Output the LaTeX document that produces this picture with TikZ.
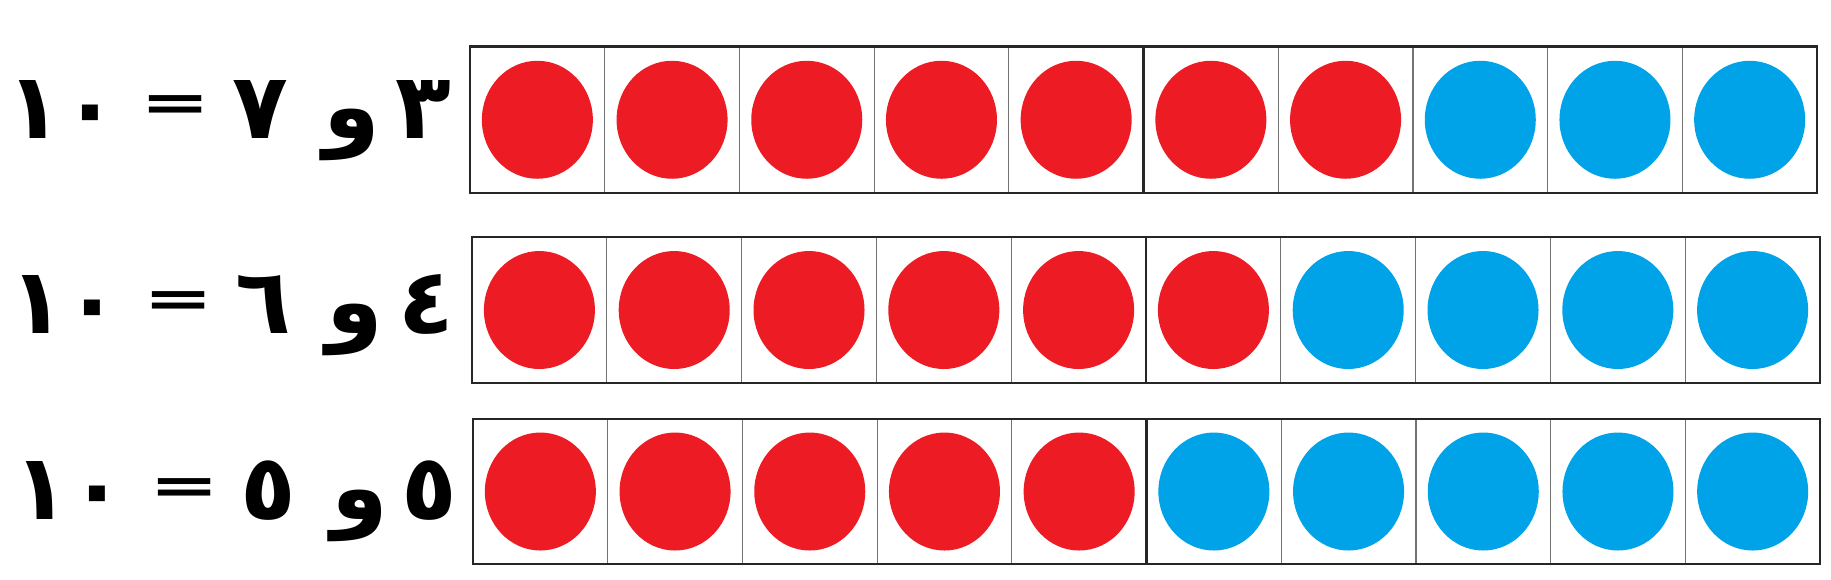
\documentclass[tikz,border=0pt]{standalone}
\usepackage{graphicx}
\usepackage{fontspec}
\newfontfamily\arabicfont[Script=Arabic]{DejaVu Sans}
\newfontfamily\eqfont{DejaVu Sans}
\TeXXeTstate=1

\definecolor{dotred}{HTML}{ED1C24}
\definecolor{dotblue}{HTML}{00A2E8}

\newcommand{\wideeq}{\scalebox{1.7}[1.05]{=}}

\tikzset{
  numtext/.style={font=\arabicfont\bfseries\fontsize{26}{31}\selectfont, inner sep=0pt, anchor=base},
  eqtext/.style={font=\eqfont\bfseries\fontsize{14}{17}\selectfont, inner sep=0pt},
  frameline/.style={line width=0.8pt, black!85},
  cellline/.style={line width=0.35pt, black!55}
}

\begin{document}
\begin{tikzpicture}
\useasboundingbox (0,0) rectangle (18.31,-5.79);

% ten frames, red dots first then blue
\foreach \row/\ty/\by/\lx/\rx/\nred in {1/-0.465/-1.93/4.70/18.17/7, 2/-2.37/-3.83/4.72/18.20/6, 3/-4.19/-5.64/4.73/18.20/5} {
  \pgfmathsetmacro\cw{(\rx-\lx)/10}
  \pgfmathsetmacro\cy{(\ty+\by)/2}
  \foreach \i in {1,...,10} {
    \pgfmathsetmacro\cx{\lx+(\i-0.5)*\cw}
    \ifnum\i>\nred \def\dotcol{dotblue}\else\def\dotcol{dotred}\fi
    \fill[fill=\dotcol] (\cx,\cy) ellipse [x radius=0.555, y radius=0.59];
  }
  \foreach \k in {1,2,3,4,6,7,8,9}
    \draw[cellline] ({\lx+\k*\cw},\ty) -- ({\lx+\k*\cw},\by);
  \draw[frameline] (\lx,\ty) rectangle (\rx,\by);
  \draw[frameline] ({\lx+5*\cw},\ty) -- ({\lx+5*\cw},\by);
}

% 3 and 7 = 10
\node(ten1)[numtext] at (0.625,-1.38) {١٠};
\node(eq1)[eqtext] at (1.76,-1.085) {\wideeq};
\node(seven)[numtext] at (2.605,-1.38) {٧};
\node(and1)[numtext] at (3.515,-1.38) {و};
\node(three)[numtext] at (4.23,-1.38) {٣};

% 4 and 6 = 10
\node(ten2)[numtext] at (0.65,-3.33) {١٠};
\node(eq2)[eqtext] at (1.79,-3.045) {\wideeq};
\node(six)[numtext] at (2.63,-3.33) {٦};
\node(and2)[numtext] at (3.545,-3.33) {و};
\node(four)[numtext] at (4.26,-3.33) {٤};

% 5 and 5 = 10
\node(ten3)[numtext] at (0.695,-5.19) {١٠};
\node(eq3)[eqtext] at (1.845,-4.915) {\wideeq};
\node(fivea)[numtext] at (2.68,-5.19) {٥};
\node(and3)[numtext] at (3.595,-5.19) {و};
\node(fiveb)[numtext] at (4.295,-5.19) {٥};
\end{tikzpicture}
\end{document}
